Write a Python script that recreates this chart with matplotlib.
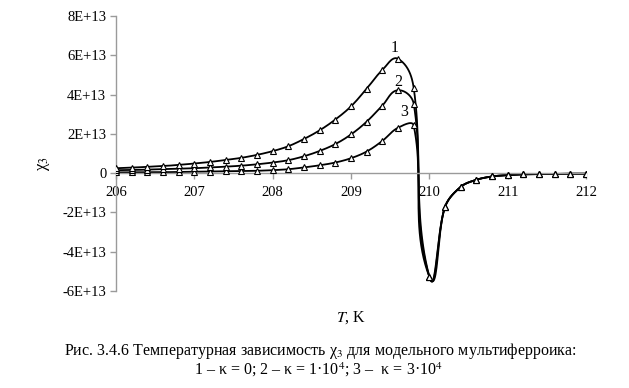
import numpy as np
import matplotlib
matplotlib.use("Agg")
import matplotlib.pyplot as plt

plt.rcParams["font.family"] = ["Liberation Serif", "DejaVu Serif"]
plt.rcParams["mathtext.fontset"] = "stix"

# Температура, K (шаг 0.2)
T = [206.0, 206.2, 206.4, 206.6, 206.8, 207.0, 207.2, 207.4, 207.6, 207.8,
     208.0, 208.2, 208.4, 208.6, 208.8, 209.0, 209.2, 209.4, 209.6, 209.8,
     210.0, 210.2, 210.4, 210.6, 210.8, 211.0, 211.2, 211.4, 211.6, 211.8, 212.0]

# chi_3, единицы 1E+13 (общая часть после 210 K)
tail = [-5.27, -1.72, -0.70, -0.34, -0.17, -0.10, -0.06, -0.05, -0.04, -0.03, -0.03]
chi_1 = [0.25, 0.28, 0.32, 0.36, 0.42, 0.49, 0.57, 0.67, 0.78, 0.93,
         1.12, 1.37, 1.74, 2.18, 2.73, 3.40, 4.30, 5.25, 5.82, 4.35] + tail
chi_2 = [0.15, 0.16, 0.18, 0.20, 0.22, 0.25, 0.29, 0.33, 0.38, 0.45,
         0.54, 0.66, 0.86, 1.13, 1.48, 1.97, 2.62, 3.44, 4.22, 3.54] + tail
chi_3 = [0.04, 0.04, 0.05, 0.05, 0.06, 0.07, 0.08, 0.09, 0.10, 0.12,
         0.15, 0.20, 0.29, 0.40, 0.54, 0.76, 1.10, 1.64, 2.31, 2.43] + tail

curve_labels = ["1", "2", "3"]
label_pos = [(209.56, 6.38), (209.60, 4.66), (209.68, 3.09)]

# масштаб экрана (пиксели на единицу) для сглаживания
SX, SY = 78.33, 19.75


def smooth(x, y, n=24, k=0.35):
    # сглаженная линия в стиле Excel: Безье, длины касательных по экранным отрезкам
    P = np.column_stack([np.asarray(x, float) * SX, np.asarray(y, float) * SY])
    m = len(P)
    xs, ys = [], []
    t = np.linspace(0, 1, n, endpoint=False)[:, None]
    for i in range(m - 1):
        p1, p2 = P[i], P[i + 1]
        p0 = P[i - 1] if i > 0 else p1
        p3 = P[i + 2] if i + 2 < m else p2
        seg = np.linalg.norm(p2 - p1)
        d1 = p2 - p0
        d2 = p3 - p1
        c1 = p1 + d1 / max(np.linalg.norm(d1), 1e-9) * seg * k
        c2 = p2 - d2 / max(np.linalg.norm(d2), 1e-9) * seg * k
        b = ((1 - t) ** 3 * p1 + 3 * (1 - t) ** 2 * t * c1
             + 3 * (1 - t) * t ** 2 * c2 + t ** 3 * p2)
        xs.append(b[:, 0])
        ys.append(b[:, 1])
    xs.append([P[-1, 0]])
    ys.append([P[-1, 1]])
    return np.concatenate(xs) / SX, np.concatenate(ys) / SY


fig = plt.figure(figsize=(6.29, 3.88), dpi=100)
ax = fig.add_axes([116 / 629, 1 - 291 / 388, 470 / 629, 275 / 388])

scale = 1e13
for chi in (chi_3, chi_2, chi_1):
    sx, sy = smooth(T, chi)
    ax.plot(sx, sy * scale, color="black", lw=1.3, zorder=2)
    ax.plot(T, np.array(chi) * scale, linestyle="none", marker="^", ms=5,
            mfc="white", mec="black", mew=0.8, zorder=3)

for lab, (x, y) in zip(curve_labels, label_pos):
    ax.text(x, y * scale, lab, ha="center", va="center", fontsize=11.5)

ax.set_xlim(206, 212)
ax.set_ylim(-6e13, 8e13)
ax.set_xticks([206, 207, 208, 209, 210, 211, 212])
ax.set_yticks([-6e13, -4e13, -2e13, 0, 2e13, 4e13, 6e13, 8e13])
ax.set_yticklabels(["-6E+13", "-4E+13", "-2E+13", "0", "2E+13", "4E+13", "6E+13", "8E+13"])

for s in ("top", "right"):
    ax.spines[s].set_visible(False)
ax.spines["bottom"].set_position(("data", 0))
for s in ("left", "bottom"):
    ax.spines[s].set_color("#9a9a9a")
    ax.spines[s].set_linewidth(1.0)
ax.tick_params(axis="both", colors="#9a9a9a", labelcolor="black", labelsize=10.5,
               length=4, width=1.0, direction="out")
ax.tick_params(axis="x", pad=5)
ax.tick_params(axis="y", pad=3)
ax.patch.set_alpha(0)

fig.text(44 / 629, 1 - 164 / 388, r"χ$_3$", fontsize=12, rotation=90,
         ha="center", va="center")

fig.text(351 / 629, 1 - 318 / 388, r"$\mathit{T}$, K", ha="center", va="center", fontsize=11.5)
fig.text(320 / 629, 1 - 351 / 388,
         r"Рис. 3.4.6 Температурная зависимость χ$_3$ для модельного мультиферроика:",
         ha="center", va="center", fontsize=11.5)
fig.text(318 / 629, 1 - 370 / 388,
         r"1 – κ = 0; 2 – κ = 1·10$^4$; 3 –  κ = 3·10$^4$",
         ha="center", va="center", fontsize=11.5)

fig.savefig("out.png", dpi=100)
plt.close(fig)
